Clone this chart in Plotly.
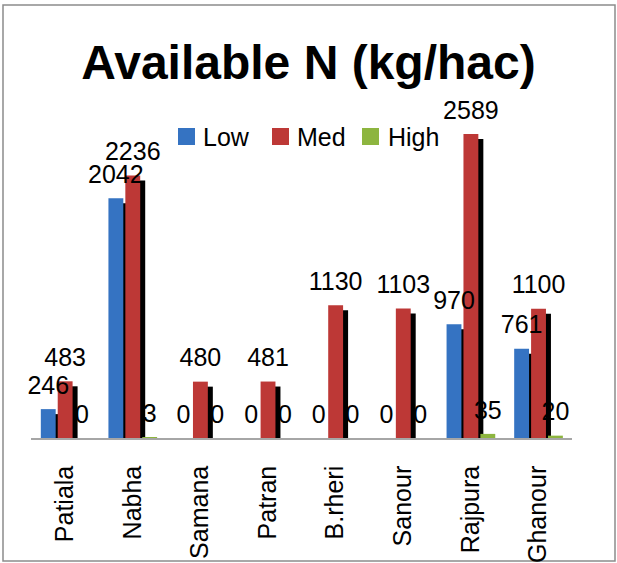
import plotly.graph_objects as go

categories = ["Patiala", "Nabha", "Samana", "Patran", "B.rheri", "Sanour", "Rajpura", "Ghanour"]
series_names = ["Low", "Med", "High"]
low_vals = [246, 2042, 0, 0, 0, 0, 970, 761]
med_vals = [483, 2236, 480, 481, 1130, 1103, 2589, 1100]
high_vals = [0, 3, 0, 0, 0, 0, 35, 20]

W, H = 617, 563
ML, MR, MT, MB = 31, 45, 85, 125
PW, PH = W - ML - MR, H - MT - MB
YMAX = 3007
FONT = "Liberation Sans, Arial, sans-serif"

colors = ["#3573c2", "#bd3836", "#8db53f"]
offsets = [-0.355, -0.105, 0.145]
bw = 0.22
sh_dx = 5 / (PW / 8)          # 5 px in category units
sh_dy = 5 / (PH / YMAX)       # 5 px in value units

xs = list(range(len(categories)))
all_vals = [low_vals, med_vals, high_vals]


def px_x(p):
    return (p - ML) / PW


def px_y(p):
    return (H - MB - p) / PH


fig = go.Figure()

# shadows and bars
for name, vals, col, off in zip(series_names, all_vals, colors, offsets):
    fig.add_trace(go.Bar(x=xs, y=vals, base=[-sh_dy] * len(vals), offset=off + sh_dx,
                         width=bw, marker=dict(color="black", line=dict(width=0)),
                         showlegend=False, hoverinfo="skip"))
    fig.add_trace(go.Bar(x=xs, y=vals, offset=off, width=bw, name=name,
                         marker=dict(color=col, line=dict(width=0)), showlegend=False))

# data labels
for vals, off in zip(all_vals, offsets):
    fig.add_trace(go.Scatter(x=[x + off + bw / 2 for x in xs], y=vals,
                             text=[str(v) for v in vals], mode="markers+text",
                             marker=dict(size=13, opacity=0), textposition="top center",
                             textfont=dict(size=25, color="black", family=FONT),
                             cliponaxis=False, showlegend=False, hoverinfo="skip"))

# legend (drawn as squares + labels)
legend_sq_left = [178, 272, 362]
legend_txt_left = [201, 295, 386]
shapes = [dict(type="rect", xref="paper", yref="paper",
               x0=px_x(3), x1=px_x(615), y0=px_y(561), y1=px_y(5),
               line=dict(color="#8c8c8c", width=1.5), fillcolor="rgba(0,0,0,0)",
               layer="below")]
annotations = []
for name, col, sq, tx in zip(series_names, colors, legend_sq_left, legend_txt_left):
    shapes.append(dict(type="rect", xref="paper", yref="paper",
                       x0=px_x(sq), x1=px_x(sq + 17), y0=px_y(145), y1=px_y(128),
                       line=dict(width=0), fillcolor=col))
    annotations.append(dict(text=name, xref="paper", yref="paper",
                            x=px_x(tx), xanchor="left", y=px_y(137), yanchor="middle",
                            showarrow=False, font=dict(size=25, family=FONT, color="black")))

fig.update_layout(
    width=W, height=H,
    margin=dict(l=ML, r=MR, t=MT, b=MB, autoexpand=False),
    paper_bgcolor="white", plot_bgcolor="white",
    barmode="overlay",
    showlegend=False,
    font=dict(family=FONT, color="black", size=25),
    title=dict(text="<b>Available N (kg/hac)</b>", font=dict(size=48, family=FONT, color="black"),
               x=308.5 / W, xanchor="center", xref="container",
               y=1 - 62 / H, yanchor="middle", yref="container", automargin=False),
    xaxis=dict(range=[-0.5, 7.5], tickvals=xs, ticktext=categories, tickangle=-90,
               showgrid=False, zeroline=False, showline=True, linecolor="#a6a6a6",
               linewidth=1.5, ticks="", ticklabelstandoff=16, automargin=False,
               tickfont=dict(size=25, family=FONT, color="black")),
    yaxis=dict(range=[0, YMAX], visible=False, showgrid=False, zeroline=False,
               automargin=False),
    shapes=shapes,
    annotations=annotations,
)

fig.write_html("out.html", config={"displayModeBar": False},
               post_script="document.body.style.margin='0px';")
